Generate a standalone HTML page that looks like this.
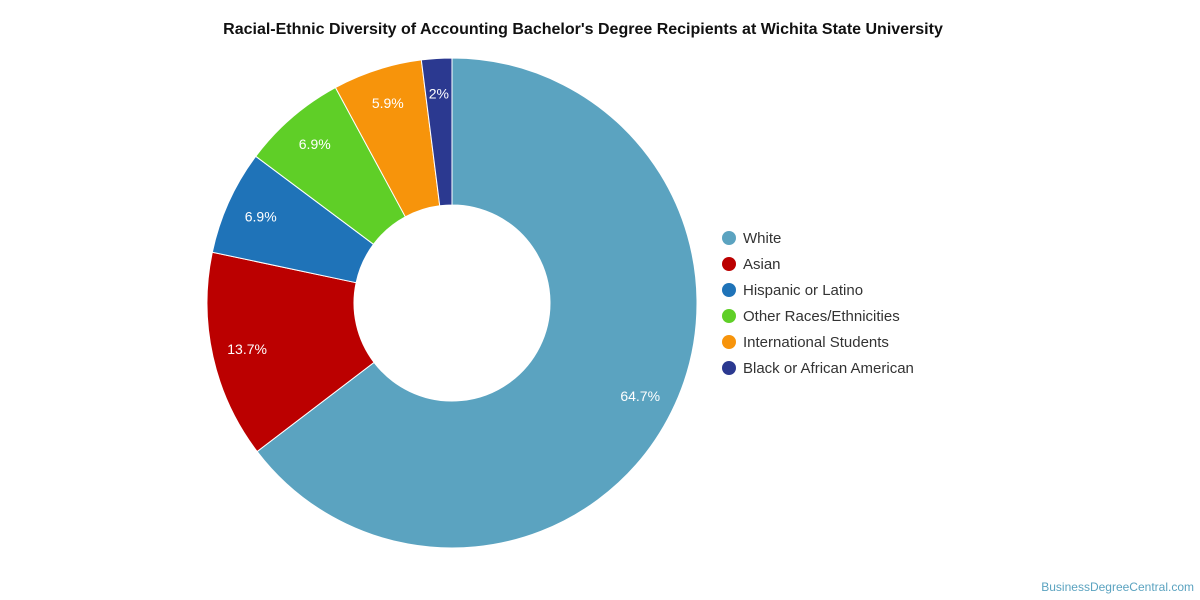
<!DOCTYPE html>
<html><head><meta charset="utf-8"><style>
body{margin:0;background:#fff;}
svg{display:block;font-family:"Liberation Sans",sans-serif;}
</style></head><body>
<svg id="chart" width="1200" height="600">
<text x="583" y="34" text-anchor="middle" font-size="16" font-weight="bold" fill="#111">Racial-Ethnic Diversity of Accounting Bachelor's Degree Recipients at Wichita State University</text>
<g id="slices"></g><g id="labels"></g><g id="legend"></g>
<text x="1194" y="591" text-anchor="end" font-size="12" fill="#5ba3c0">BusinessDegreeCentral.com</text>
</svg>
<script>
const categories=["White","Asian","Hispanic or Latino","Other Races/Ethnicities","International Students","Black or African American"];
const values=[64.7,13.7,6.9,6.9,5.9,2];
const valueLabels=["64.7%","13.7%","6.9%","6.9%","5.9%","2%"];
const colors=["#5ba3c0","#bb0000","#1f73b8","#5fcf27","#f7940b","#2b3990"];
const NS="http://www.w3.org/2000/svg";
const cx=452,cy=303,R=245,r=98,LR=210;
const total=values.reduce((a,b)=>a+b,0);
const pt=(a,rad)=>[cx+rad*Math.sin(a),cy-rad*Math.cos(a)];
let acc=0;
const gs=document.getElementById('slices'),gl=document.getElementById('labels'),gg=document.getElementById('legend');
values.forEach((v,i)=>{
  const a0=acc/total*2*Math.PI;acc+=v;const a1=acc/total*2*Math.PI;
  const large=(a1-a0)>Math.PI?1:0;
  const [x0,y0]=pt(a0,R),[x1,y1]=pt(a1,R),[x2,y2]=pt(a1,r),[x3,y3]=pt(a0,r);
  const p=document.createElementNS(NS,'path');
  p.setAttribute('d',`M${x0},${y0}A${R},${R} 0 ${large} 1 ${x1},${y1}L${x2},${y2}A${r},${r} 0 ${large} 0 ${x3},${y3}Z`);
  p.setAttribute('fill',colors[i]);p.setAttribute('stroke','#fff');p.setAttribute('stroke-width','1');
  
  
  gs.appendChild(p);
  const [lx,ly]=pt((a0+a1)/2,LR);
  const t=document.createElementNS(NS,'text');
  t.setAttribute('x',lx);t.setAttribute('y',ly+5);t.setAttribute('text-anchor','middle');
  t.setAttribute('font-size','14');t.setAttribute('fill','#fff');t.textContent=valueLabels[i];
  
  
  gl.appendChild(t);
  const ly2=238+i*26;
  const c=document.createElementNS(NS,'circle');
  c.setAttribute('cx',729);c.setAttribute('cy',ly2);c.setAttribute('r',7);c.setAttribute('fill',colors[i]);
  
  
  gg.appendChild(c);
  const lt=document.createElementNS(NS,'text');
  lt.setAttribute('x',743);lt.setAttribute('y',ly2+5);lt.setAttribute('font-size','15');lt.setAttribute('fill','#333');
  lt.textContent=categories[i];
  
  
  gg.appendChild(lt);
});
</script>
</body></html>
